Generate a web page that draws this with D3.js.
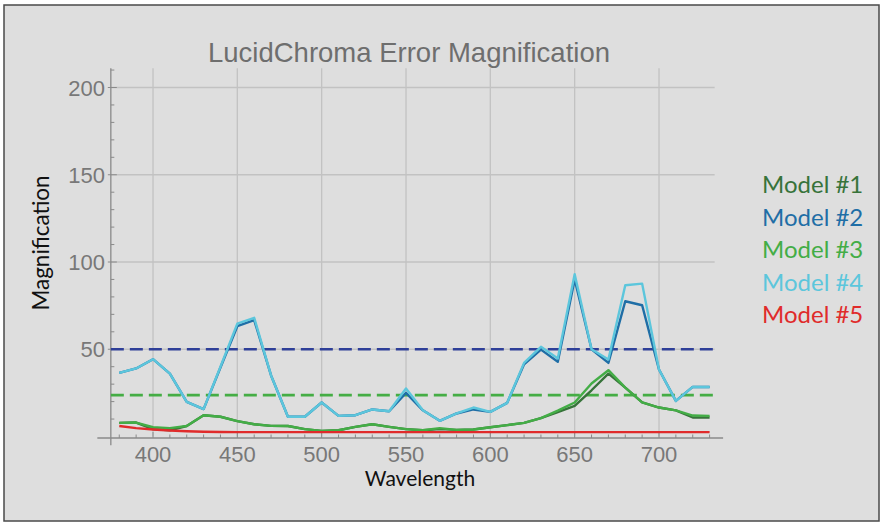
<!DOCTYPE html>
<html lang="en">
<head>
<meta charset="utf-8">
<title>LucidChroma Error Magnification</title>
<script src="https://d3js.org/d3.v7.min.js"></script>
<style>
  body { margin: 0; background: #ffffff; }
  svg text { font-family: "Liberation Sans", Arial, sans-serif; }
</style>
</head>
<body>
<div id="chart"></div>
<script>

// wavelengths (nm)
var wavelengths = [380, 390, 400, 410, 420, 430, 440, 450, 460, 470, 480, 490, 500, 510, 520, 530, 540, 550,
                   560, 570, 580, 590, 600, 610, 620, 630, 640, 650, 660, 670, 680, 690, 700, 710, 720, 730]

// magnification per model
var model1 = [7.8, 8.0, 4.2, 3.6, 6.0, 12.2, 11.3, 8.8, 7.0, 6.1, 6.0, 4.2, 3.2, 3.6, 5.5, 7.0, 5.5, 4.2,
              3.6, 4.2, 3.8, 4.0, 5.3, 6.5, 7.8, 10.5, 14.0, 17.5, 26.5, 36.0, 28.0, 19.5, 16.6, 15.0, 10.9, 10.9]
var model2 = [36.5, 39.0, 44.3, 36.0, 19.9, 15.7, 39.5, 63.2, 66.7, 35.0, 11.3, 11.3, 19.5, 11.8, 12.2, 15.5, 14.5, 25.0,
              15.0, 9.0, 13.2, 15.5, 14.1, 19.3, 41.4, 49.8, 42.8, 90.0, 50.0, 42.2, 77.5, 75.2, 38.4, 20.4, 28.4, 28.4]
var model3 = [7.8, 8.0, 5.3, 4.8, 6.0, 12.2, 11.3, 8.8, 7.0, 6.1, 6.0, 4.2, 3.2, 3.6, 5.5, 7.0, 5.5, 4.2,
              3.6, 4.8, 3.8, 4.0, 5.3, 6.5, 7.8, 10.5, 14.8, 19.5, 30.4, 38.0, 28.0, 19.5, 16.6, 15.0, 12.0, 11.8]
var model4 = [36.5, 39.0, 44.3, 36.0, 19.9, 15.7, 40.0, 64.7, 68.0, 35.0, 11.3, 11.3, 19.5, 11.8, 12.2, 15.5, 14.5, 27.5,
              15.0, 9.0, 13.2, 16.6, 14.1, 19.3, 42.2, 51.4, 44.7, 93.0, 50.0, 44.1, 86.7, 87.6, 38.4, 20.4, 28.4, 28.4]
var model5 = [6.0, 4.8, 4.0, 3.4, 3.0, 2.7, 2.6, 2.5, 2.5, 2.5, 2.5, 2.5, 2.5, 2.5, 2.5, 2.5, 2.5, 2.5,
              2.5, 2.5, 2.5, 2.5, 2.5, 2.5, 2.5, 2.5, 2.5, 2.5, 2.5, 2.5, 2.5, 2.5, 2.5, 2.5, 2.5, 2.5]

var modelNames = ["Model #1", "Model #2", "Model #3", "Model #4", "Model #5"]
var modelColors = ["#37733a", "#1f6ea6", "#43ad46", "#5cc6dc", "#e02b2b"]

// dashed reference levels
var refLevels = [50, 23.7]
var refColors = ["#2e3f98", "#45ad45"]

var xTicks = [400, 450, 500, 550, 600, 650, 700]
var yTicks = [50, 100, 150, 200]

var width = 885
var height = 525

var svg = d3.select("#chart")
  .append("svg")
    .attr("width", width)
    .attr("height", height)

// background + frame
svg.append("rect")
  .attr("x", 4).attr("y", 5)
  .attr("width", 875).attr("height", 516)
  .attr("fill", "#dedede")
  .attr("stroke", "#4a4a4a")
  .attr("stroke-width", 1.5)

var x = d3.scaleLinear().domain([400, 700]).range([153, 659])
var y = d3.scaleLinear().domain([0, 200]).range([436.5, 87.5])

var xLeft = x(375), xRight = x(738)
var yTop = y(211), yBottom = y(-5)

// grid
svg.append("g")
  .selectAll("line")
  .data(xTicks)
  .enter()
  .append("line")
    .attr("x1", function(d){ return x(d) })
    .attr("x2", function(d){ return x(d) })
    .attr("y1", yTop)
    .attr("y2", y(0))
    .attr("stroke", "#c2c2c2")
    .attr("stroke-width", 1.3)

svg.append("g")
  .selectAll("line")
  .data(yTicks)
  .enter()
  .append("line")
    .attr("x1", xLeft)
    .attr("x2", x(733))
    .attr("y1", function(d){ return y(d) })
    .attr("y2", function(d){ return y(d) })
    .attr("stroke", "#c2c2c2")
    .attr("stroke-width", 1.3)

// axes lines
var axisColor = "#8a8a8a"
svg.append("line")
  .attr("x1", x(367)).attr("x2", xRight)
  .attr("y1", y(0) + 1.5).attr("y2", y(0) + 1.5)
  .attr("stroke", axisColor).attr("stroke-width", 1.3)
svg.append("line")
  .attr("x1", xLeft).attr("x2", xLeft)
  .attr("y1", yTop).attr("y2", yBottom)
  .attr("stroke", axisColor).attr("stroke-width", 1.3)

// x ticks (minor every 10 nm, pointing up)
var xMinor = d3.range(380, 731, 10)
svg.append("g")
  .selectAll("line")
  .data(xMinor)
  .enter()
  .append("line")
    .attr("x1", function(d){ return x(d) })
    .attr("x2", function(d){ return x(d) })
    .attr("y1", y(0) + 1.5)
    .attr("y2", function(d){ return y(0) + 1.5 - (d % 50 == 0 ? 6 : 3.5) })
    .attr("stroke", axisColor)
    .attr("stroke-width", 1)

// y ticks (minor every 10, pointing right)
var yMinor = d3.range(10, 211, 10)
svg.append("g")
  .selectAll("line")
  .data(yMinor)
  .enter()
  .append("line")
    .attr("x1", function(d){ return d % 50 == 0 ? xLeft - 3 : xLeft })
    .attr("x2", function(d){ return xLeft + (d % 50 == 0 ? 6 : 3.5) })
    .attr("y1", function(d){ return y(d) })
    .attr("y2", function(d){ return y(d) })
    .attr("stroke", axisColor)
    .attr("stroke-width", 1)

// tick labels
svg.append("g")
  .selectAll("text")
  .data(xTicks)
  .enter()
  .append("text")
    .attr("x", function(d){ return x(d) })
    .attr("y", 462)
    .attr("text-anchor", "middle")
    .attr("font-size", 22)
    .attr("fill", "#787878")
    .text(function(d){ return d })

svg.append("g")
  .selectAll("text")
  .data(yTicks)
  .enter()
  .append("text")
    .attr("x", 105)
    .attr("y", function(d){ return y(d) + 8 })
    .attr("text-anchor", "end")
    .attr("font-size", 22)
    .attr("fill", "#787878")
    .text(function(d){ return d })

// reference dashed lines
svg.append("g")
  .selectAll("line")
  .data(refLevels)
  .enter()
  .append("line")
    .attr("x1", xLeft)
    .attr("x2", x(733))
    .attr("y1", function(d){ return y(d) })
    .attr("y2", function(d){ return y(d) })
    .attr("stroke", function(d, i){ return refColors[i] })
    .attr("stroke-width", 2.6)
    .attr("stroke-dasharray", "13,6")

// series
var series = [model1, model2, model3, model4, model5]
var line = d3.line()
  .x(function(d, i){ return x(wavelengths[i]) })
  .y(function(d){ return y(d) })

svg.append("g")
  .selectAll("path")
  .data(series)
  .enter()
  .append("path")
    .attr("d", line)
    .attr("fill", "none")
    .attr("stroke", function(d, i){ return modelColors[i] })
    .attr("stroke-width", 2.4)
    .attr("stroke-linejoin", "round")

// title
svg.append("text")
  .attr("x", 409)
  .attr("y", 62)
  .attr("text-anchor", "middle")
  .attr("font-size", 27.5)
  .attr("fill", "#6e6e6e")
  .text("LucidChroma Error Magnification")

// axis labels
svg.append("text")
  .attr("x", 420)
  .attr("y", 486)
  .attr("text-anchor", "middle")
  .attr("font-size", 21)
  .attr("fill", "#111")
  .style("font-family", "Lato, 'Open Sans', sans-serif")
  .text("Wavelength")

svg.append("text")
  .attr("transform", "translate(49,243) rotate(-90)")
  .attr("text-anchor", "middle")
  .attr("font-size", 22.5)
  .attr("fill", "#111")
  .style("font-family", "Lato, 'Open Sans', sans-serif")
  .text("Magnification")

// legend
svg.append("g")
  .selectAll("text")
  .data(modelNames)
  .enter()
  .append("text")
    .attr("x", 762)
    .attr("y", function(d, i){ return 193.3 + i * 32.5 })
    .attr("font-size", 24)
    .attr("fill", function(d, i){ return modelColors[i] })
    .style("font-family", "Lato, 'Open Sans', sans-serif")
    .text(function(d){ return d })

</script>
</body>
</html>
